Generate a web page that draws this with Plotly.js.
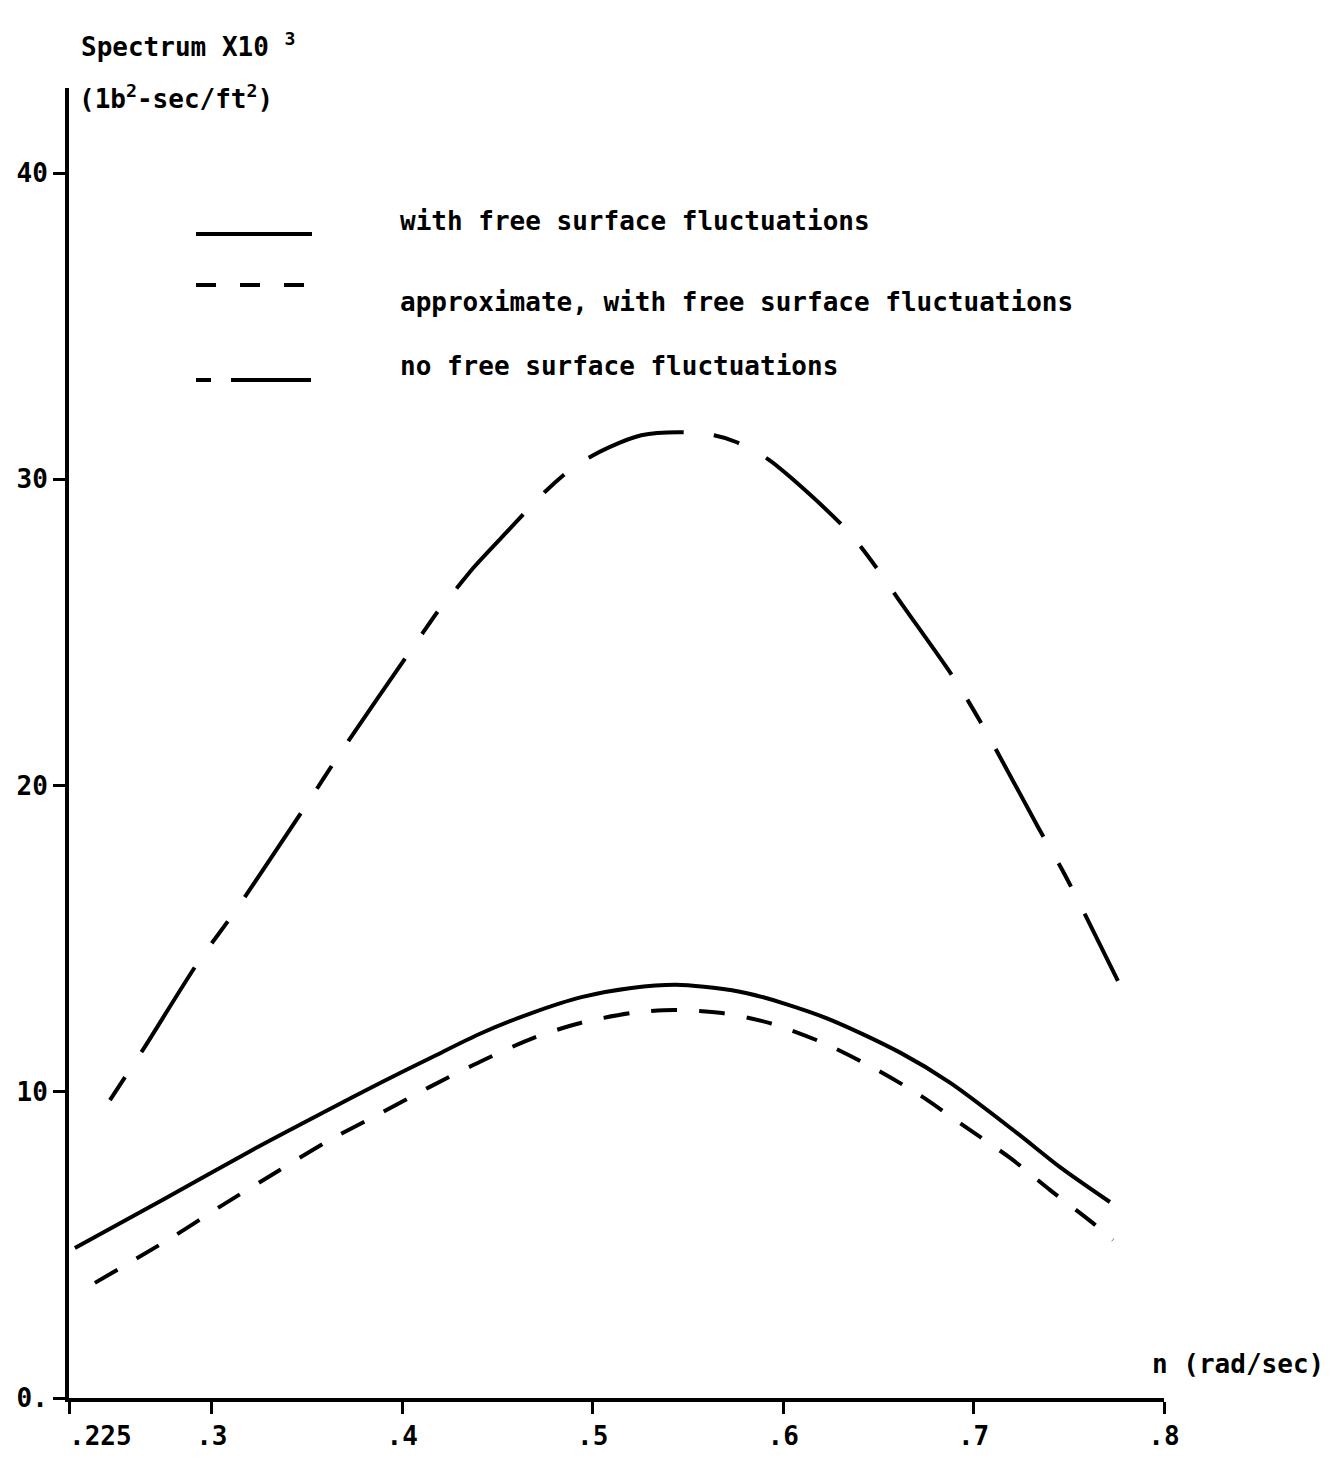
<!DOCTYPE html>
<html>
<head>
<meta charset="utf-8">
<script src="https://cdn.plot.ly/plotly-3.0.1.min.js"></script>
<style>
html,body{margin:0;padding:0;background:#fff;}
#chart{width:1330px;height:1459px;}
</style>
</head>
<body>
<div id="chart"></div>
<script>
// ---- data ----
const seriesNames = [
  "with free surface fluctuations",
  "approximate, with free surface fluctuations",
  "no free surface fluctuations"
];

const nWith = [0.2281,0.2750,0.3213,0.3600,0.3894,0.4156,0.4417,0.4679,0.4941,0.5203,0.5465,0.5810,0.6213,0.6617,0.6878,0.7229,0.7454,0.7716];
const sWith = [4.90,6.50,8.10,9.37,10.32,11.13,11.92,12.57,13.09,13.39,13.49,13.22,12.44,11.27,10.29,8.65,7.54,6.40];

const nApprox = [0.2386,0.2779,0.3041,0.3355,0.3617,0.3868,0.4145,0.4428,0.4690,0.4931,0.5203,0.5428,0.5679,0.5931,0.6213,0.6465,0.6726,0.6946,0.7192,0.7402,0.7627,0.7732];
const sApprox = [3.76,5.20,6.24,7.44,8.42,9.24,10.16,11.04,11.76,12.24,12.57,12.67,12.57,12.24,11.59,10.81,9.86,8.90,7.84,6.79,5.71,5.16];

const nNoFree = [0.2465,0.2637,0.2925,0.3119,0.3486,0.3674,0.4093,0.4192,0.4287,0.4376,0.4564,0.4747,0.4915,0.5088,0.5255,0.5449,0.5637,0.5753,0.5920,0.6051,0.6344,0.6522,0.6616,0.6904,0.7061,0.7339,0.7480,0.7758];
const sNoFree = [9.73,11.36,14.20,15.87,19.27,21.06,24.85,25.73,26.45,27.13,28.38,29.58,30.47,31.05,31.44,31.54,31.44,31.22,30.66,30.00,28.28,26.84,25.99,23.44,21.81,18.64,17.08,13.62];

const xTickVals = [0.225,0.3,0.4,0.5,0.6,0.7,0.8];
const xTickText = ["\u00a0\u00a0\u00a0\u00a0.225",".3",".4",".5",".6",".7",".8"];
const yTickVals = [0,10,20,30,40];
const yTickText = ["0.","10","20","30","40"];

const yTitle = "Spectrum X10 <sup>3</sup>";
const yUnits = "(1b<sup>2</sup>-sec/ft<sup>2</sup>)";
const xTitle = "n (rad/sec)";

// ---- styles ----
const FONT = "DejaVu Sans Mono, Liberation Mono, monospace";
const dashShort = "26px,22px";
const dashLongShort = "27px,30px,100px,30px";

const traces = [
  {x:nWith, y:sWith, name:seriesNames[0], mode:"lines",
   line:{color:"#000", width:4, shape:"spline", smoothing:0.8}},
  {x:nApprox, y:sApprox, name:seriesNames[1], mode:"lines",
   line:{color:"#000", width:4, shape:"spline", smoothing:0.8, dash:dashShort}},
  {x:nNoFree, y:sNoFree, name:seriesNames[2], mode:"lines",
   line:{color:"#000", width:4, shape:"spline", smoothing:0.8, dash:dashLongShort}}
];

// legend key samples (paper coordinates)
const keyX0 = 0.1160, keyX1 = 0.2219;
const keyY = [0.8885, 0.8496, 0.7771];
const keyDash = ["solid", "20px,24px", "15px,20px,80px,20px"];
const labelY = [0.8985, 0.8366, 0.7878];
const labelX = 0.3005;

const shapes = keyY.map((y,i)=>({
  type:"line", xref:"paper", yref:"paper",
  x0:keyX0, x1:keyX1, y0:y, y1:y,
  line:{color:"#000", width:4, dash:keyDash[i]}
}));

const annotations = seriesNames.map((t,i)=>({
  text:t, xref:"paper", yref:"paper", x:labelX, y:labelY[i],
  xanchor:"left", yanchor:"middle", showarrow:false,
  font:{family:FONT, size:26, color:"#000", weight:"bold"}
}));
annotations.push({
  text:yTitle, xref:"paper", yref:"paper", x:0.0090, y:1.0,
  xanchor:"left", yanchor:"bottom", yshift:24, showarrow:false,
  font:{family:FONT, size:26, color:"#000", weight:"bold"}
});
annotations.push({
  text:yUnits, xref:"paper", yref:"paper", x:0.0072, y:1.0,
  xanchor:"left", yanchor:"middle", yshift:-9, showarrow:false,
  font:{family:FONT, size:26, color:"#000", weight:"bold"}
});
annotations.push({
  text:xTitle, xref:"paper", yref:"paper", x:0.9872, y:0.026,
  xanchor:"left", yanchor:"middle", showarrow:false,
  font:{family:FONT, size:26, color:"#000", weight:"bold"}
});

const layout = {
  width:1330, height:1459,
  margin:{l:69, r:166, t:88, b:61, pad:0},
  paper_bgcolor:"#fff", plot_bgcolor:"#fff",
  font:{family:FONT, size:26, color:"#000", weight:"bold"},
  showlegend:false,
  xaxis:{
    range:[0.225,0.8], showgrid:false, zeroline:false,
    showline:true, linecolor:"#000", linewidth:4,
    ticks:"outside", ticklen:12, tickwidth:3, tickcolor:"#000",
    tickmode:"array", tickvals:xTickVals, ticktext:xTickText,
    tickfont:{family:FONT, size:26, color:"#000", weight:"bold"}
  },
  yaxis:{
    range:[0,42.78], showgrid:false, zeroline:false,
    showline:true, linecolor:"#000", linewidth:4,
    ticks:"outside", ticklen:12, tickwidth:3, tickcolor:"#000",
    tickmode:"array", tickvals:yTickVals, ticktext:yTickText,
    tickfont:{family:FONT, size:26, color:"#000", weight:"bold"}
  },
  shapes:shapes,
  annotations:annotations
};

Plotly.newPlot("chart", traces, layout, {displayModeBar:false, staticPlot:true});
</script>
</body>
</html>
